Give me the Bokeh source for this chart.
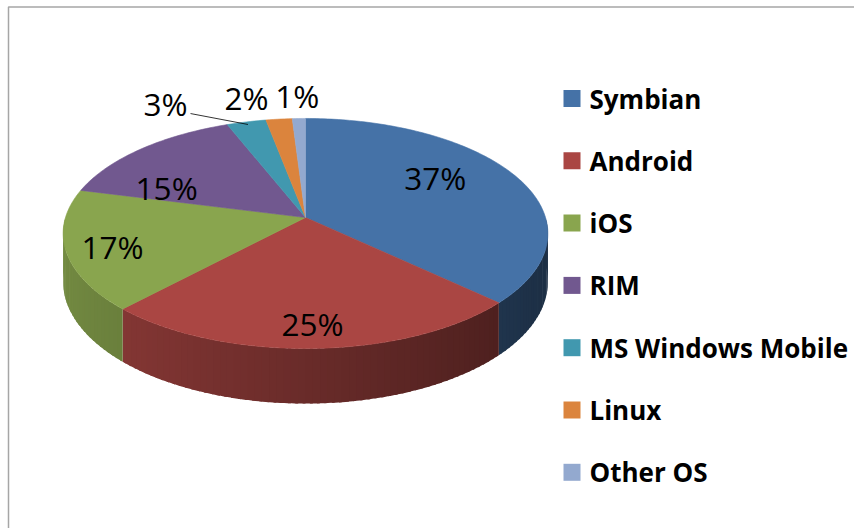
import numpy as np
from bokeh.plotting import figure
from bokeh.models import Range1d
from bokeh.core.properties import value
from bokeh.embed import file_html
from bokeh.resources import INLINE

# ---- data ----
names = ["Symbian", "Android", "iOS", "RIM", "MS Windows Mobile", "Linux", "Other OS"]
shares = [37, 25, 17, 15, 3, 2, 1]
labels = ["37%", "25%", "17%", "15%", "3%", "2%", "1%"]
colors = ["#4572A7", "#AA4643", "#89A54E", "#71588F", "#4198AF", "#DB843D", "#93A9CF"]

# ---- label layout (radius fraction, angle shift in degrees, leader line) ----
label_r = [0.68, 0.83, 0.815, 0.66, 1.357, 1.28, 1.27]
label_shift = [-9.8, 0.0, -1.5, -16.9, -13.8, -5.8, 0.0]
label_leader = [False, False, False, False, True, False, False]

# ---- geometry of the tilted pie (pixel space) ----
W, H = 854, 528
CX, CY = 305.0, 217.0
A, B, K, DEPTH = 240.0, 112.8, 0.139, 47.4


def proj(theta, f=1.0):
    X = f * np.sin(theta)
    Z = f * np.cos(theta)
    w = 1.0 / (1.0 + K * Z)
    return CX + A * X * w, CY - B * Z * w, w


def shade(hexcol, fac):
    h = hexcol.lstrip("#")
    r, g, b = (int(h[i:i + 2], 16) for i in (0, 2, 4))
    return "#%02x%02x%02x" % tuple(int(max(0, min(255, round(c * fac)))) for c in (r, g, b))


total = float(sum(shares))
cum = np.concatenate([[0.0], np.cumsum(shares)]) / total
starts = cum[:-1] * 2 * np.pi
ends = cum[1:] * 2 * np.pi

p = figure(width=W, height=H, x_range=Range1d(0, W), y_range=Range1d(H, 0),
           x_axis_type=None, y_axis_type=None, toolbar_location=None,
           output_backend="svg", min_border=0, outline_line_color=None,
           background_fill_color="white", border_fill_color="white")
p.grid.visible = False

# ---- frame ----
p.line([8, 8, W], [H, 6.5, 6.5], line_color="#a6a6a6", line_width=1.5)

# ---- side wall (front half) as shaded strips ----
lo, hi = np.pi / 2, 3 * np.pi / 2
grid = list(np.linspace(lo, hi, 121))
for s, e in zip(starts, ends):
    for t in (s, e):
        if lo < t < hi:
            grid.append(t)
grid = np.array(sorted(set(grid)))
sx, sy, sc = [], [], []
for t0, t1 in zip(grid[:-1], grid[1:]):
    tm = 0.5 * (t0 + t1)
    idx = int(np.searchsorted(ends, tm))
    fac = 0.62 - 0.22 * np.sin(tm)
    t1e = min(hi, t1 + np.radians(0.6))
    if t1 >= ends[idx] - 1e-9:
        t1e = t1
    th = np.linspace(t0, t1e, 4)
    x, y, w = proj(th)
    sx.append(np.concatenate([x, x[::-1]]))
    sy.append(np.concatenate([y, (y + DEPTH * w)[::-1]]))
    sc.append(shade(colors[idx], fac))
p.patches(sx, sy, fill_color=sc, line_color=None)

# ---- top face ----
tx, ty = [], []
for s, e in zip(starts, ends):
    n = max(4, int(np.degrees(e - s)))
    th = np.linspace(s, e, n + 1)
    ax, ay, _ = proj(th)
    tx.append(np.concatenate([[CX], ax]))
    ty.append(np.concatenate([[CY], ay]))
p.patches(tx, ty, fill_color=colors, line_color=colors, line_width=0.6)

# ---- data labels ----
mids = 0.5 * (starts + ends)
lx, ly = [], []
for m, r, d in zip(mids, label_r, label_shift):
    x, y, _ = proj(m + np.radians(d), r)
    lx.append(x)
    ly.append(y)
p.text(x=lx, y=ly, text=labels, text_font=value("Open Sans"),
       text_font_size=value("31.5px"), text_align="center",
       text_baseline="middle", text_color="black")

for i, lead in enumerate(label_leader):
    if lead:
        ex, ey, _ = proj(mids[i], 0.97)
        p.line([lx[i] + 25, ex], [ly[i] + 10, ey], line_color="black", line_width=0.8)

# ---- legend ----
leg_y = [98 + 62.3 * i for i in range(len(names))]
p.rect(x=[571.5] * len(names), y=leg_y, width=17, height=17,
       fill_color=colors, line_color=None)
p.text(x=[589] * len(names), y=leg_y, text=names, text_font=value("Open Sans"),
       text_font_style="bold", text_font_size=value("26px"), text_align="left",
       text_baseline="middle", text_color="black")

open("out.html", "w").write(file_html(p, INLINE))
